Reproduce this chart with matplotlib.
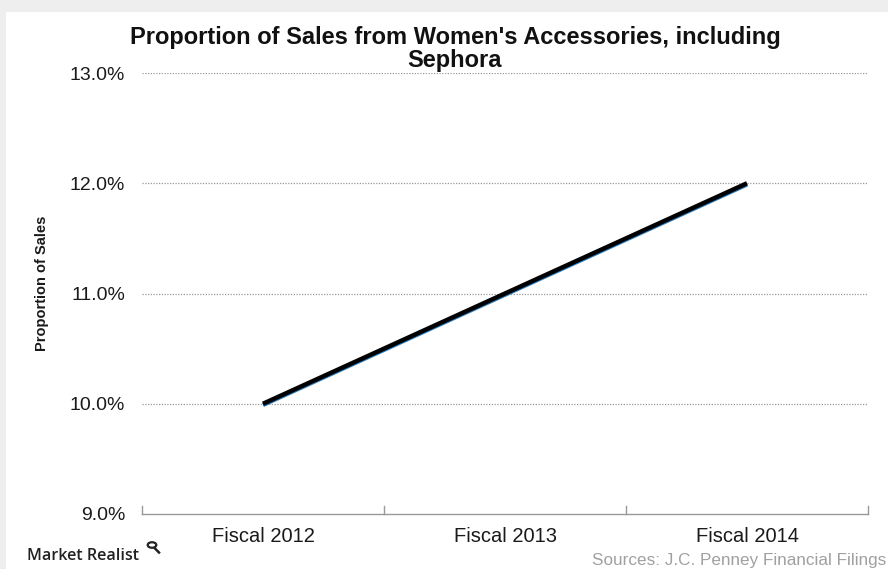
import matplotlib
matplotlib.use("Agg")
import matplotlib.pyplot as plt
from matplotlib.patches import Rectangle, Circle
from matplotlib.lines import Line2D

categories = ["Fiscal 2012", "Fiscal 2013", "Fiscal 2014"]
values = [10.0, 11.0, 12.0]
yticks = [9.0, 10.0, 11.0, 12.0, 13.0]
ytick_labels = ["9.0%", "10.0%", "11.0%", "12.0%", "13.0%"]

plt.rcParams['font.family'] = ['Liberation Sans', 'DejaVu Sans']

W, H = 888, 569
fig = plt.figure(figsize=(W/100, H/100), dpi=100)
fig.patch.set_facecolor('#eeeeee')
fig.add_artist(Rectangle((6/W, 0), 1 - 6/W, 1 - 12/H, transform=fig.transFigure,
                         facecolor='white', edgecolor='none', zorder=0))

ax = fig.add_axes([142/W, 1 - 514/H, (868-142)/W, (514-73)/H])
ax.set_facecolor('none')
x = list(range(len(categories)))
# subtle blue shadow
ax.plot(x, [v - 0.012 for v in values], color='#2a7fc0', lw=3, solid_capstyle='butt', zorder=3)
ax.plot(x, values, color='black', lw=3.2, solid_capstyle='butt', zorder=4)

ax.set_xlim(-0.5, 2.5)
ax.set_ylim(9.0, 13.0)
ax.set_yticks(yticks)
ax.set_yticklabels(ytick_labels, fontsize=14, color='#1a1a1a')
ax.set_xticks(x)
ax.set_xticklabels(categories, fontsize=14.5, color='#1a1a1a')
ax.tick_params(axis='y', length=0, pad=12)
ax.tick_params(axis='x', length=0, pad=9)
for y in yticks[1:]:
    ax.axhline(y, color='#999999', lw=0.9, ls=(0, (1, 1.2)), zorder=1)
for s in ['top', 'right', 'left']:
    ax.spines[s].set_visible(False)
ax.spines['bottom'].set_color('#999999')
ax.spines['bottom'].set_linewidth(1)
# boundary ticks
for b in [-0.5, 0.5, 1.5, 2.5]:
    ax.plot([b, b], [9.0, 9.0 + 0.07], color='#999999', lw=1, clip_on=False, zorder=2)

fig.text(42/W, 1 - 283/H, "Proportion of Sales", rotation=90, ha='center', va='center',
         fontsize=10.5, fontweight='bold', color='#1a1a1a')

fig.text(455/W, 1 - 49/H, "Proportion of Sales from Women's Accessories, including\nSephora",
         ha='center', va='center', fontsize=17, fontweight='bold', linespacing=1.02,
         color='#111111')

fig.text(27/W, 1 - 556/H, "Market Realist", ha='left', va='center', fontsize=11.6,
         color='#222222', family=['Open Sans', 'DejaVu Sans'], fontweight='semibold')
# magnifier glyph drawn as a shape
fig.add_artist(Circle((152/W, 1 - 545/H), 4.3/W, transform=fig.transFigure,
                      facecolor='none', edgecolor='#222222', lw=1.6))
fig.add_artist(Line2D([155/W, 159/W], [1 - 548.5/H, 1 - 552.5/H], transform=fig.transFigure,
                      color='#222222', lw=1.8))
fig.text(886/W, 1 - 560/H, "Sources: J.C. Penney Financial Filings", ha='right', va='center',
         fontsize=12.3, color='#a0a0a0')

fig.savefig("out.png", dpi=100)
